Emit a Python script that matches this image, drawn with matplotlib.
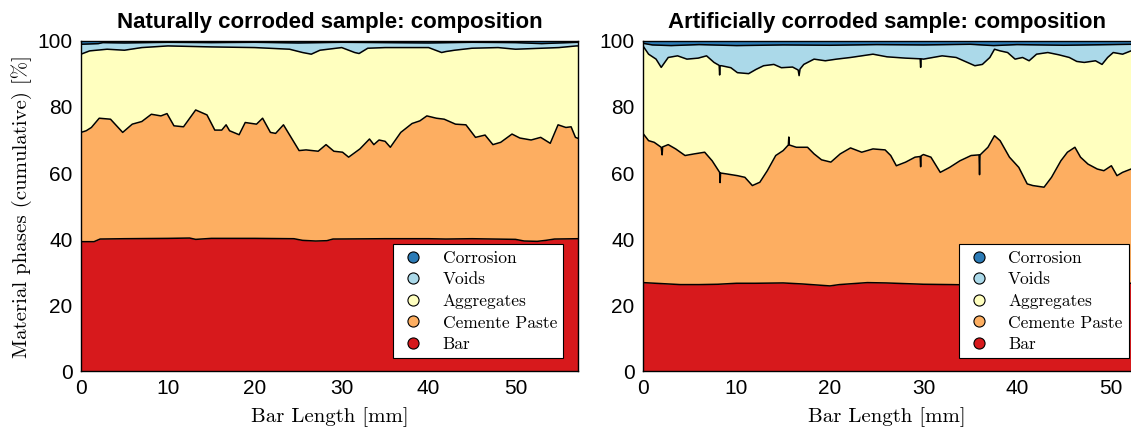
import matplotlib.pyplot as plt
from matplotlib.lines import Line2D

# phase colours (bottom to top)
phase_names = ["Bar", "Cemente Paste", "Aggregates", "Voids", "Corrosion"]
phase_colors = ["#d7191c", "#fdae61", "#ffffbf", "#abd9e9", "#2c7bb6"]

# ---- naturally corroded sample: cumulative upper boundary of each phase [%]
nat_xmax = 57.2
nat_x_bar = [0, 1.5, 2.2, 5, 10, 12.5, 13.2, 15, 20, 24.5, 25.5, 27, 28.3, 29,
             35, 40, 42, 45, 50, 51, 52.5, 53.5, 54.5, 57.2]
nat_bar = [39.2, 39.2, 40.0, 40.1, 40.2, 40.3, 39.9, 40.2, 40.2, 40.1, 39.6, 39.4,
           39.5, 40.0, 40.1, 40.1, 40.0, 40.1, 39.9, 39.4, 39.3, 39.6, 40.0, 40.1]

nat_x_paste = [0, 0.6, 1.2, 2.1, 3.4, 4.8, 5.9, 7.0, 8.1, 9.2, 9.9, 10.7, 11.8, 13.2,
               14.5, 15.4, 16.2, 16.7, 17.1, 18.2, 18.9, 20.2, 20.9, 21.8, 22.4, 23.3,
               25.1, 25.9, 27.3, 28.2, 29.1, 30.1, 30.8, 32.1, 33.2, 33.7, 34.3, 35.0,
               35.6, 36.8, 38.1, 39.0, 39.8, 40.9, 41.8, 43.1, 44.3, 45.4, 46.5, 47.4,
               48.3, 49.6, 50.5, 51.8, 52.9, 54.0, 54.9, 55.8, 56.4, 56.9, 57.2]
nat_paste = [72.3, 72.8, 73.8, 76.6, 76.3, 72.3, 74.8, 75.6, 77.8, 77.3, 78.0, 74.3,
             74.0, 79.1, 77.6, 73.0, 73.0, 74.6, 72.8, 71.6, 75.3, 74.8, 76.6, 72.3,
             72.0, 74.6, 66.8, 67.0, 66.6, 68.6, 66.6, 66.3, 64.8, 67.3, 70.3, 68.6,
             70.0, 69.6, 67.8, 72.3, 75.0, 75.8, 77.3, 76.6, 76.3, 74.8, 74.6, 70.8,
             71.5, 68.6, 69.3, 71.8, 70.6, 70.0, 70.8, 69.0, 74.6, 73.8, 74.0, 70.8, 70.5]

nat_x_agg = [0, 1, 3, 5, 7, 10, 15, 20, 24, 25.5, 26.5, 27.5, 30, 31.5, 32, 33, 35,
             40, 41.5, 42, 43, 45, 48, 50, 55, 57, 57.2]
nat_agg = [96.0, 97.0, 97.5, 97.2, 98.0, 98.5, 98.2, 98.0, 97.5, 96.5, 96.0, 97.2,
           98.0, 96.5, 96.2, 97.8, 98.0, 98.0, 96.5, 96.8, 97.2, 97.8, 98.0, 97.5,
           98.0, 98.5, 98.5]

nat_x_voids = [0, 2, 2.5, 5, 10, 15, 20, 25, 30, 35, 40, 45, 50, 53, 55, 57.2]
nat_voids = [99.0, 99.2, 99.5, 99.4, 99.6, 99.5, 99.6, 99.4, 99.6, 99.5, 99.4, 99.6,
             99.5, 99.2, 99.4, 99.6]

# ---- artificially corroded sample
art_xmax = 52.2
art_x_bar = [0, 2, 4, 6, 8, 10, 12, 15, 17, 19, 20, 21, 23, 24, 26, 28, 30, 33, 35,
             37, 40, 45, 50, 52.2]
art_bar = [26.8, 26.5, 26.2, 26.2, 26.3, 26.6, 26.6, 26.7, 26.4, 26.0, 25.8, 26.2,
           26.6, 26.8, 26.7, 26.5, 26.3, 26.2, 26.1, 26.3, 26.5, 26.6, 26.6, 26.6]

art_x_paste = [0, 0.6, 1.2, 1.95, 2.05, 2.1, 2.7, 3.5, 4.5, 5.5, 6.6, 7.4, 8.2, 8.25,
               8.3, 9.0, 10.1, 10.9, 11.7, 12.5, 13.3, 14.2, 15.0, 15.55, 15.6, 15.65,
               16.4, 17.6, 18.3, 19.1, 20.1, 21.1, 22.2, 23.4, 24.6, 25.9, 26.5, 27.1,
               28.1, 29.1, 29.65, 29.7, 29.75, 30.0, 30.8, 31.8, 32.8, 33.9, 35.1,
               35.95, 36.0, 36.05, 36.1, 36.9, 37.6, 38.2, 39.2, 40.2, 41.1, 41.7, 42.9,
               43.7, 44.7, 45.4, 46.2, 46.8, 47.6, 48.6, 49.3, 50.1, 50.7, 51.3, 52.2]
art_paste = [72.0, 69.8, 69.3, 67.8, 65.5, 67.9, 68.6, 67.3, 65.3, 65.8, 66.3, 63.7,
             60.2, 57.1, 60.0, 59.7, 59.2, 58.7, 56.2, 57.2, 60.7, 65.3, 66.8, 68.5,
             70.9, 68.5, 67.8, 67.8, 65.8, 64.0, 63.3, 65.8, 67.6, 66.3, 67.3, 67.0,
             65.3, 62.2, 63.3, 64.8, 65.0, 61.9, 65.2, 65.6, 64.8, 60.2, 61.7, 63.7,
             65.3, 65.5, 59.5, 65.5, 65.6, 67.8, 71.3, 69.8, 64.8, 61.7, 56.7, 56.2,
             55.7, 58.7, 63.7, 66.3, 67.8, 64.8, 62.7, 61.2, 60.7, 62.2, 59.2, 60.2,
             61.2]

art_x_agg = [0, 0.6, 1.4, 1.95, 2.7, 3.7, 4.7, 5.9, 6.8, 7.6, 8.15, 8.2, 8.25, 8.4,
             9.4, 10.1, 11.3, 12.1, 12.9, 14.0, 14.8, 16.0, 16.6, 16.7, 16.8, 17.2,
             18.3, 19.5, 20.7, 22.2, 23.4, 24.6, 26.1, 28.1, 29.65, 29.7, 29.75, 30.0,
             32.0, 33.5, 34.7, 35.5, 36.3, 37.1, 37.6, 38.2, 39.0, 39.8, 40.6, 41.3,
             42.1, 43.3, 44.5, 45.6, 46.4, 47.2, 48.4, 49.1, 49.7, 50.3, 51.3, 52.2]
art_agg = [98.5, 96.0, 94.5, 92.0, 95.0, 95.5, 94.5, 94.8, 95.5, 93.5, 92.6, 89.7,
           92.5, 92.5, 91.9, 90.4, 90.1, 91.4, 92.5, 92.9, 91.9, 92.1, 91.2, 89.5,
           91.5, 92.9, 94.5, 94.0, 94.5, 95.0, 95.5, 96.0, 95.2, 94.8, 94.6, 92.0,
           94.6, 94.5, 95.5, 95.0, 93.5, 92.5, 92.9, 95.0, 97.5, 97.0, 96.5, 94.5,
           95.0, 94.0, 96.0, 96.5, 95.8, 95.0, 93.8, 93.5, 94.0, 92.9, 95.0, 96.5,
           96.0, 97.0]

art_x_voids = [0, 1, 3, 6, 10, 15, 20, 25, 30, 35, 37.5, 40, 45, 50, 52.2]
art_voids = [99.3, 98.8, 98.6, 98.9, 98.6, 98.8, 98.7, 98.9, 98.8, 99.0, 98.6, 98.9,
             98.7, 98.9, 99.0]

plt.rcParams["font.family"] = ["Liberation Sans", "DejaVu Sans"]
serif = "cmr10"

fig = plt.figure(figsize=(11.31, 4.29), dpi=100)
ax1 = fig.add_axes([0.0716, 0.135, 0.4395, 0.7695])
ax2 = fig.add_axes([0.5685, 0.135, 0.4315, 0.7695])


def draw_panel(ax, xmax, bounds, title, leg_right):
    # paint from the top phase downwards, each one from 0 up to its boundary
    ax.fill_between([0, xmax], 0, 100, color=phase_colors[4], lw=0)
    for i in range(3, -1, -1):
        x, y = bounds[i]
        ax.fill_between(x, 0, y, color=phase_colors[i], lw=0)
    for x, y in bounds:
        ax.plot(x, y, color="black", lw=1.1)
    ax.plot([0, xmax], [100, 100], color="black", lw=1.1)

    ax.set_xlim(0, xmax)
    ax.set_ylim(0, 100)
    ax.set_xticks([0, 10, 20, 30, 40, 50])
    ax.set_yticks([0, 20, 40, 60, 80, 100])
    ax.tick_params(labelsize=15, length=0, pad=6)
    ax.set_title(title, fontsize=16, fontweight="bold", pad=9)
    ax.set_xlabel("Bar Length [mm]", fontsize=15, family=serif, labelpad=6)
    for s in ax.spines.values():
        s.set_linewidth(1.0)

    handles = [Line2D([], [], ls="none", marker="o", markersize=8,
                      markerfacecolor=phase_colors[i], markeredgecolor="black",
                      markeredgewidth=0.8)
               for i in range(4, -1, -1)]
    labels = [phase_names[i] for i in range(4, -1, -1)]
    leg = ax.legend(handles, labels, loc="lower right",
                    bbox_to_anchor=(leg_right, 0.039), borderaxespad=0,
                    prop={"family": serif, "size": 12.5},
                    frameon=True, fancybox=False, framealpha=1,
                    edgecolor="black", borderpad=0.35, labelspacing=0.36,
                    handletextpad=0.9, handlelength=1.6)
    leg.get_frame().set_linewidth(0.8)


draw_panel(ax1, nat_xmax,
           [(nat_x_bar, nat_bar), (nat_x_paste, nat_paste),
            (nat_x_agg, nat_agg), (nat_x_voids, nat_voids)],
           "Naturally corroded sample: composition", 0.97)
draw_panel(ax2, art_xmax,
           [(art_x_bar, art_bar), (art_x_paste, art_paste),
            (art_x_agg, art_agg), (art_x_voids, art_voids)],
           "Artificially corroded sample: composition", 0.995)

ax1.set_ylabel("Material phases (cumulative) [%]", fontsize=15, family=serif,
               labelpad=4)
ax2.spines["right"].set_visible(False)

plt.savefig("out.png", dpi=100)
